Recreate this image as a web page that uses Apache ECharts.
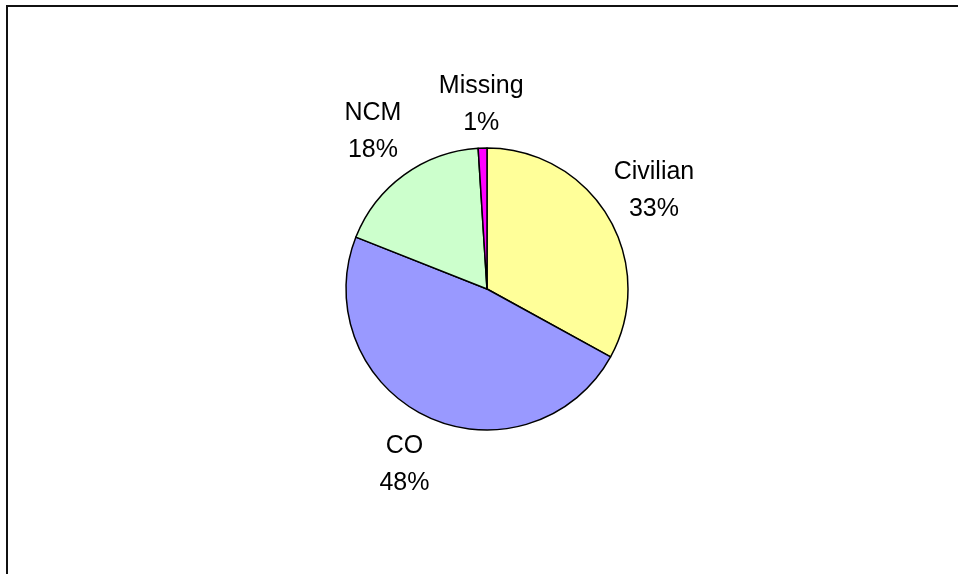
<!DOCTYPE html>
<html>
<head>
<meta charset="utf-8">
<style>
  html, body { margin: 0; padding: 0; background: #fff; }
  #chart { width: 958px; height: 574px; }
</style>
<script src="https://cdn.jsdelivr.net/npm/echarts@6/dist/echarts.min.js"></script>
</head>
<body>
<div id="chart"></div>
<script>
// Share of personnel by category (percent)
var categories = ['Civilian', 'CO', 'NCM', 'Missing'];
var shares = [33, 48, 18, 1];
var sliceColors = ['#FFFF99', '#9999FF', '#CCFFCC', '#FF00FF'];

var pieCenter = [487, 289];
var pieRadius = 141;
// Distance from the pie centre to the middle of each label block
var defaultLabelDistance = 194;
var labelDistanceOverride = { Missing: 184 };

var total = shares.reduce(function (a, b) { return a + b; }, 0);

// Mid-angle of each slice, measured clockwise from 12 o'clock
function midAngle(index) {
  var before = 0;
  for (var i = 0; i < index; i++) before += shares[i];
  return (before + shares[index] / 2) / total * Math.PI * 2;
}

var chart = echarts.init(document.getElementById('chart'), null, { renderer: 'canvas' });

chart.setOption({
  animation: false,
  backgroundColor: '#ffffff',
  graphic: [{
    type: 'rect',
    shape: { x: 7, y: 6, width: 1000, height: 1000 },
    style: { fill: 'none', stroke: '#111', lineWidth: 2 },
    silent: true
  }],
  series: [{
    type: 'pie',
    center: pieCenter,
    radius: pieRadius,
    startAngle: 90,
    clockwise: true,
    silent: true,
    data: categories.map(function (name, i) {
      return { name: name, value: shares[i], itemStyle: { color: sliceColors[i] } };
    }),
    itemStyle: { borderColor: '#000', borderWidth: 1.5 },
    emphasis: { disabled: true },
    labelLine: { show: false },
    label: {
      show: true,
      position: 'outside',
      color: '#000',
      fontFamily: '"Liberation Sans", Arial, sans-serif',
      fontSize: 25,
      lineHeight: 37,
      align: 'center',
      formatter: function (p) { return p.name + '\n' + Math.round(p.percent) + '%'; }
    },
    labelLayout: function (params) {
      var a = midAngle(params.dataIndex);
      var name = categories[params.dataIndex];
      var d = labelDistanceOverride[name] || defaultLabelDistance;
      return {
        x: pieCenter[0] + d * Math.sin(a),
        y: pieCenter[1] - d * Math.cos(a),
        align: 'center',
        verticalAlign: 'middle'
      };
    }
  }]
});
</script>
</body>
</html>
